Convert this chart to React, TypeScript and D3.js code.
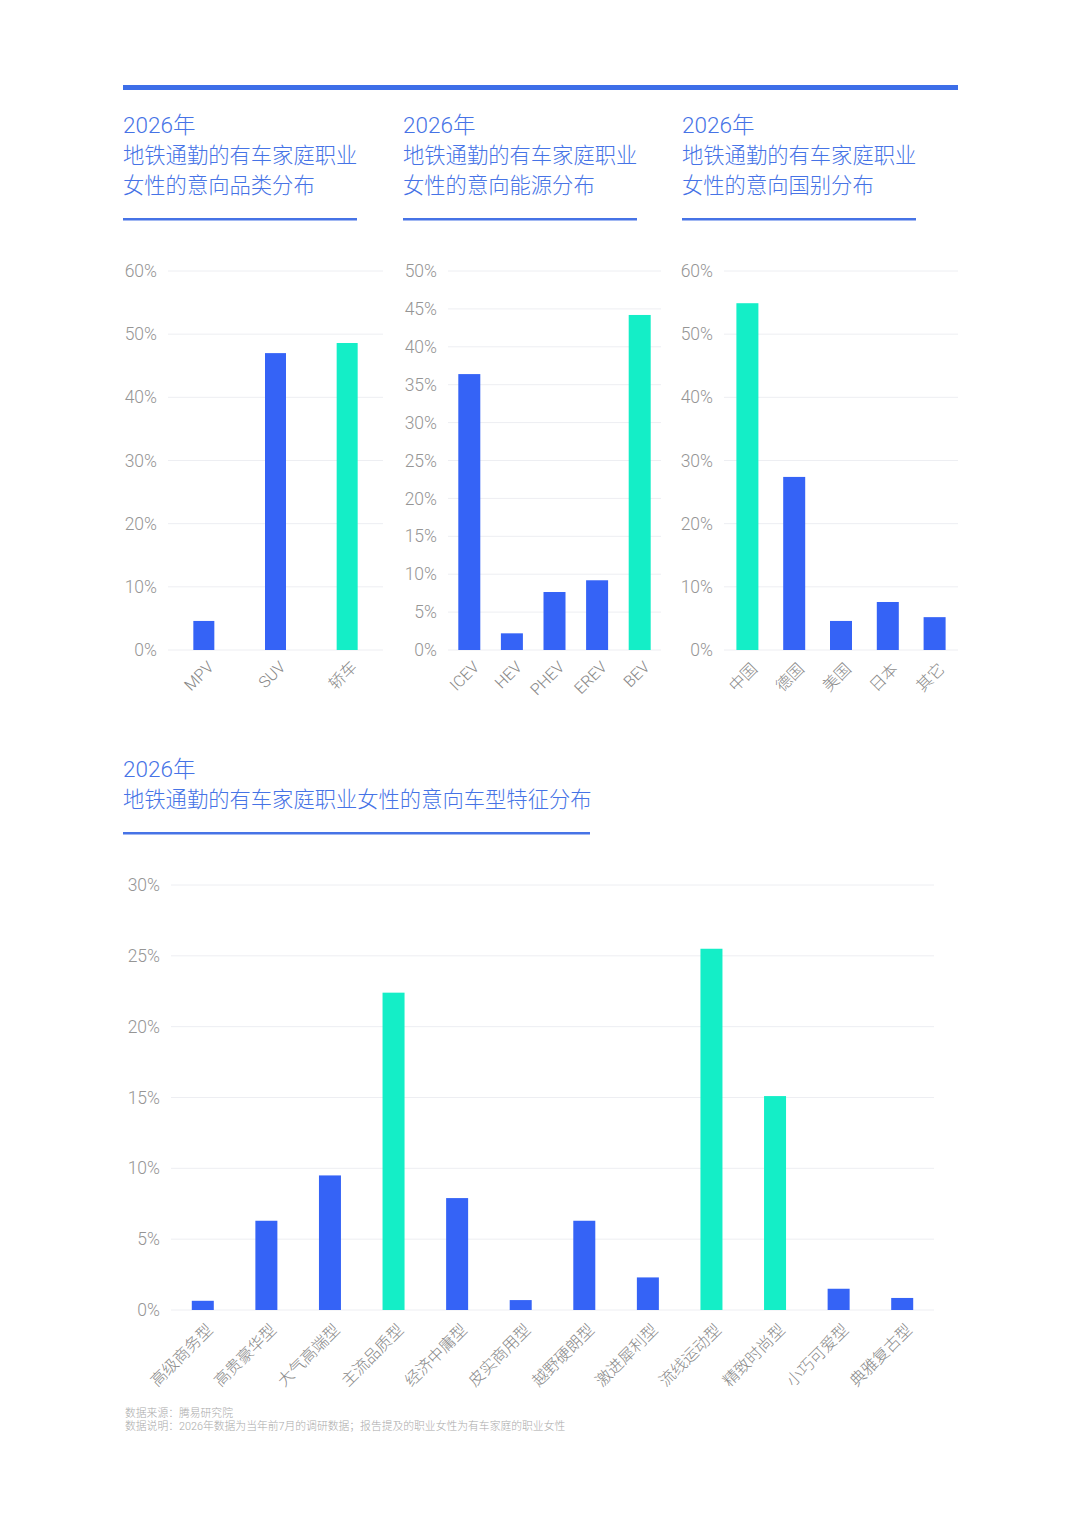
import React from "react";
import * as d3 from "d3";

const BLUE = "#3563F6";
const TEAL = "#14EEC7";
const TITLE = "#4673E6";
const FONT = "Roboto, 'Noto Sans CJK SC', 'Noto Sans', sans-serif";

const catA = ["MPV", "SUV", "轿车"];
const valA = [4.6, 47.0, 48.6];
const hiA = ["轿车"];

const catB = ["ICEV", "HEV", "PHEV", "EREV", "BEV"];
const valB = [36.4, 2.2, 7.65, 9.2, 44.2];
const hiB = ["BEV"];

const catC = ["中国", "德国", "美国", "日本", "其它"];
const valC = [54.9, 27.4, 4.6, 7.6, 5.2];
const hiC = ["中国"];

const catD = ["高级商务型", "高贵豪华型", "大气高端型", "主流品质型", "经济中庸型", "皮实商用型", "越野硬朗型", "激进犀利型", "流线运动型", "精致时尚型", "小巧可爱型", "典雅复古型"];
const valD = [0.65, 6.3, 9.5, 22.4, 7.9, 0.7, 6.3, 2.3, 25.5, 15.1, 1.5, 0.85];
const hiD = ["主流品质型", "流线运动型", "精致时尚型"];

const ticksA = [0, 10, 20, 30, 40, 50, 60];
const ticksB = [0, 5, 10, 15, 20, 25, 30, 35, 40, 45, 50];
const ticksC = [0, 10, 20, 30, 40, 50, 60];
const ticksD = [0, 5, 10, 15, 20, 25, 30];

type ChartProps = {
  x0: number; x1: number; yTop: number; yBot: number;
  cats: string[]; vals: number[]; hi: string[]; ticks: number[];
  barW: number; labelDy: number;
};

function BarChart({ x0, x1, yTop, yBot, cats, vals, hi, ticks, barW, labelDy }: ChartProps) {
  const x = d3.scaleBand<string>().domain(cats).range([x0, x1]);
  const y = d3.scaleLinear().domain([0, d3.max(ticks)!]).range([yBot, yTop]);
  return (
    <g>
      {ticks.map((t) => (
        <g key={t}>
          <line x1={x0} x2={x1} y1={y(t)} y2={y(t)} stroke="#EDEEF2" strokeWidth={1} />
          <text x={x0 - 11} y={y(t)} dy="0.35em" textAnchor="end" fontSize={17.5} fill="#959595" fontFamily={FONT} fontWeight={300}>
            {t}%
          </text>
        </g>
      ))}
      {cats.map((c, i) => {
        const cx = x(c)! + x.bandwidth() / 2;
        return (
          <g key={c}>
            <rect x={cx - barW / 2} y={y(vals[i])} width={barW} height={yBot - y(vals[i])} fill={hi.includes(c) ? TEAL : BLUE} />
            <text
              transform={`translate(${cx + 7},${yBot + labelDy}) rotate(-45)`}
              textAnchor="end"
              dy="0.35em"
              fontSize={16}
              fill="#888888"
              fontFamily={FONT}
              fontWeight={300}
            >
              {c}
            </text>
          </g>
        );
      })}
    </g>
  );
}

function Title({ x, y, lines, w, lineY }: { x: number; y: number; lines: string[]; w: number; lineY: number }) {
  return (
    <g>
      {lines.map((l, i) => (
        <text key={i} x={x} y={y + i * 30} fontSize={i === 0 ? 22.5 : 21.3} fill={TITLE} fontFamily={FONT} fontWeight={300}>
          {l}
        </text>
      ))}
      <rect x={x} y={lineY} width={w} height={2.5} fill={TITLE} />
    </g>
  );
}

export default function App() {
  return (
    <svg width={1080} height={1516} style={{ position: "absolute", left: 0, top: 0, background: "#fff" }}>
      <rect x={123} y={85} width={835} height={5} fill="#3D6EE8" />
      <Title x={123} y={133} lines={["2026年", "地铁通勤的有车家庭职业", "女性的意向品类分布"]} w={234} lineY={218} />
      <Title x={403} y={133} lines={["2026年", "地铁通勤的有车家庭职业", "女性的意向能源分布"]} w={234} lineY={218} />
      <Title x={682} y={133} lines={["2026年", "地铁通勤的有车家庭职业", "女性的意向国别分布"]} w={234} lineY={218} />

      <BarChart x0={168} x1={383} yTop={271} yBot={650} cats={catA} vals={valA} hi={hiA} ticks={ticksA} barW={21} labelDy={14} />
      <BarChart x0={448} x1={661} yTop={271} yBot={650} cats={catB} vals={valB} hi={hiB} ticks={ticksB} barW={22} labelDy={14} />
      <BarChart x0={724} x1={958} yTop={271} yBot={650} cats={catC} vals={valC} hi={hiC} ticks={ticksC} barW={22} labelDy={16} />

      <g>
        <text x={123} y={777} fontSize={22.5} fill={TITLE} fontFamily={FONT} fontWeight={300}>2026年</text>
        <text x={123} y={807} fontSize={21.3} fill={TITLE} fontFamily={FONT} fontWeight={300}>地铁通勤的有车家庭职业女性的意向车型特征分布</text>
        <rect x={123} y={832} width={467} height={2.5} fill={TITLE} />
      </g>

      <BarChart x0={171} x1={934} yTop={885} yBot={1310} cats={catD} vals={valD} hi={hiD} ticks={ticksD} barW={22} labelDy={17} />

      <text x={125} y={1417} fontSize={10.8} fill="#AAAAAA" fontFamily={FONT} fontWeight={300}>数据来源：腾易研究院</text>
      <text x={125} y={1430} fontSize={10.8} fill="#AAAAAA" fontFamily={FONT} fontWeight={300}>数据说明：2026年数据为当年前7月的调研数据；报告提及的职业女性为有车家庭的职业女性</text>
    </svg>
  );
}
